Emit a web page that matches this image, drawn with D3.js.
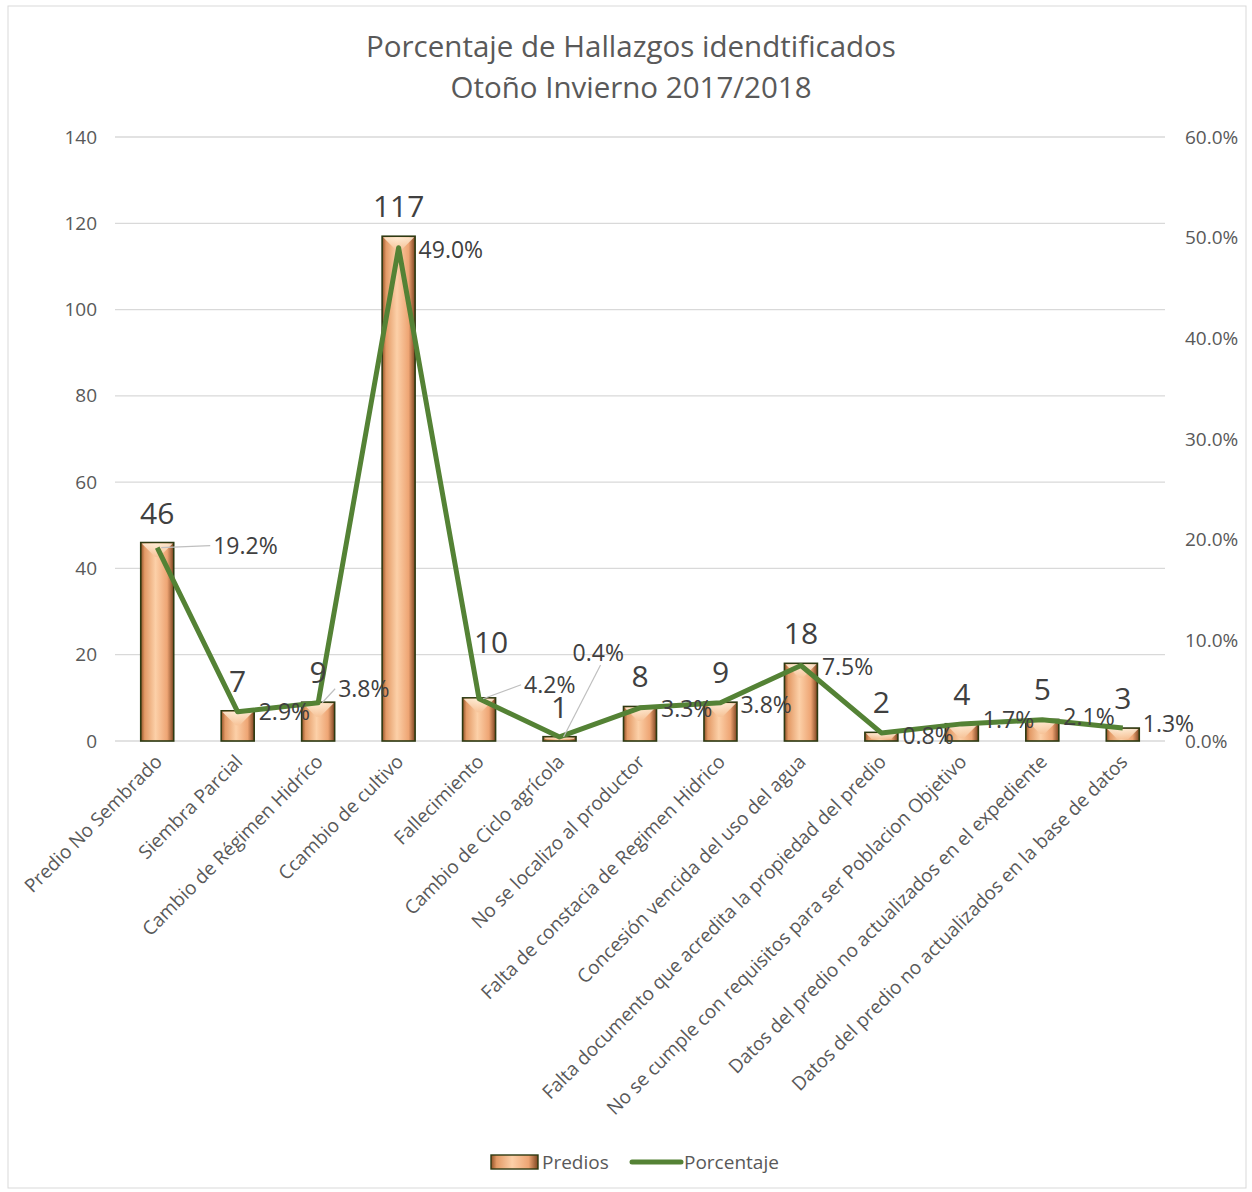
<!DOCTYPE html>
<html>
<head>
<meta charset="utf-8">
<script src="https://cdn.jsdelivr.net/npm/d3@7"></script>
<style>
  body { margin: 0; background: #fff; }
  text { font-family: "Open Sans", sans-serif; }
</style>
</head>
<body>
<svg width="1252" height="1192"></svg>
<script>
// data
const categories = [
  "Predio No Sembrado", "Siembra Parcial", "Cambio de Régimen Hidríco", "Ccambio de cultivo",
  "Fallecimiento", "Cambio de Ciclo agrícola", "No se localizo al productor",
  "Falta de constacia de Regimen Hidrico", "Concesión vencida del uso del agua",
  "Falta documento que acredita la propiedad del predio",
  "No se cumple con requisitos para ser Poblacion Objetivo",
  "Datos del predio no actualizados en el expediente",
  "Datos del predio no actualizados en la base de datos"
];
const predios = [46, 7, 9, 117, 10, 1, 8, 9, 18, 2, 4, 5, 3];
const porcentaje = [0.192, 0.029, 0.038, 0.490, 0.042, 0.004, 0.033, 0.038, 0.075, 0.008, 0.017, 0.021, 0.013];
const leftTicks = [0, 20, 40, 60, 80, 100, 120, 140];
const rightTicks = [0, 0.1, 0.2, 0.3, 0.4, 0.5, 0.6];

// label nudges (layout only): [dx, dy, leader?, leader end dx, leader end dy]
const pctNudge = [[56, -2, true, -3, 0], [21, 0], [20, -14, true, -3, 0], [20, 2], [45, -14, true, -3, 0],
                  [13, -84, true, 28, 12], [21, 1], [20, 2], [21, 1], [21, 3], [21, -4], [21, -3], [20, -4]];
const cntNudge = [[0, 0], [0, 0], [0, 0], [0, 0], [12, -26], [0, 0], [0, 0], [0, 0], [0, 0], [0, 0], [0, 0], [0, 0], [0, 0]];

const svg = d3.select("svg");
const plotLeft = 117, plotRight = 1163, plotTop = 137, plotBottom = 741;

svg.append("rect").attr("x", 8).attr("y", 6).attr("width", 1238).attr("height", 1182)
  .attr("fill", "#fff").attr("stroke", "#d9d9d9");

const defs = svg.append("defs");
const grad = defs.append("linearGradient").attr("id", "barGrad").attr("x1", "0").attr("x2", "1").attr("y1", "0").attr("y2", "0");
[["0%", "#8f5026"], ["12%", "#e39a66"], ["45%", "#fcd0a8"], ["80%", "#eea574"], ["100%", "#7e4420"]]
  .forEach(s => grad.append("stop").attr("offset", s[0]).attr("stop-color", s[1]));
const bevel = defs.append("linearGradient").attr("id", "bevelGrad").attr("x1", "0").attr("x2", "0").attr("y1", "0").attr("y2", "1");
[["0%", "#fff1dc"], ["100%", "#f6c297"]].forEach(s => bevel.append("stop").attr("offset", s[0]).attr("stop-color", s[1]));

const x = d3.scaleBand().domain(categories).range([plotLeft, plotRight]).paddingInner(0.59).paddingOuter(0.295);
const yL = d3.scaleLinear().domain([0, 140]).range([plotBottom, plotTop]);
const yR = d3.scaleLinear().domain([0, 0.6]).range([plotBottom, plotTop]);
const cx = c => x(c) + x.bandwidth() / 2;

// title
svg.append("text").attr("x", 631).attr("y", 57).attr("text-anchor", "middle")
  .attr("font-size", 29.5).attr("fill", "#595959").text("Porcentaje de Hallazgos idendtificados");
svg.append("text").attr("x", 631).attr("y", 98).attr("text-anchor", "middle")
  .attr("font-size", 29.5).attr("fill", "#595959").text("Otoño Invierno 2017/2018");

// gridlines
svg.append("g").selectAll("line").data(leftTicks).enter().append("line")
  .attr("x1", plotLeft - 2).attr("x2", plotRight + 2)
  .attr("y1", d => yL(d)).attr("y2", d => yL(d))
  .attr("stroke", "#d9d9d9").attr("stroke-width", 1.3);

// left axis
const axL = svg.append("g").attr("transform", `translate(${plotLeft - 2},0)`)
  .call(d3.axisLeft(yL).tickValues(leftTicks).tickSize(0).tickPadding(18));
axL.select(".domain").remove();
axL.selectAll("text").attr("font-size", 19).attr("fill", "#595959").style("font-family", "Open Sans");

// right axis
const axR = svg.append("g").attr("transform", `translate(${plotRight + 2},0)`)
  .call(d3.axisRight(yR).tickValues(rightTicks).tickFormat(d3.format(".1%")).tickSize(0).tickPadding(20));
axR.select(".domain").remove();
axR.selectAll("text").attr("font-size", 19).attr("fill", "#595959").style("font-family", "Open Sans");

// bars
const bars = svg.append("g").selectAll("g").data(categories).enter().append("g");
bars.append("rect")
  .attr("x", d => x(d)).attr("width", x.bandwidth())
  .attr("y", (d, i) => yL(predios[i])).attr("height", (d, i) => plotBottom - yL(predios[i]))
  .attr("fill", "url(#barGrad)").attr("stroke", "#2e3a12").attr("stroke-width", 1.6);
bars.append("path")
  .attr("d", (d, i) => {
    const x0 = x(d) + 1, x1 = x(d) + x.bandwidth() - 1, y0 = yL(predios[i]) + 1;
    const h = Math.min(x.bandwidth() / 2 - 3, plotBottom - y0 - 2);
    return `M${x0},${y0}L${x1},${y0}L${x1 - h},${y0 + h}L${x0 + h},${y0 + h}Z`;
  })
  .attr("fill", "url(#bevelGrad)").attr("opacity", 0.85);

// line
svg.append("path").datum(porcentaje)
  .attr("d", d3.line().x((d, i) => cx(categories[i])).y(d => yR(d)))
  .attr("fill", "none").attr("stroke", "#548235").attr("stroke-width", 5).attr("stroke-linejoin", "round");

// count labels
svg.append("g").selectAll("text").data(predios).enter().append("text")
  .attr("x", (d, i) => cx(categories[i]) + cntNudge[i][0])
  .attr("y", (d, i) => yL(d) - 19 + cntNudge[i][1])
  .attr("text-anchor", "middle").attr("font-size", 30).attr("fill", "#404040")
  .text(d => d);

// percent labels with leader lines
const pl = svg.append("g");
porcentaje.forEach((p, i) => {
  const px = cx(categories[i]), py = yR(p);
  const n = pctNudge[i];
  const lx = px + n[0], ly = py + n[1];
  if (n[2]) {
    pl.append("line").attr("x1", px + 4).attr("y1", py).attr("x2", lx + n[3]).attr("y2", ly + n[4])
      .attr("stroke", "#bfbfbf").attr("stroke-width", 1.2);
  }
  pl.append("text").attr("x", lx).attr("y", ly).attr("dy", "0.35em")
    .attr("font-size", 23).attr("fill", "#404040").text(d3.format(".1%")(p));
});

// category labels
svg.append("g").selectAll("text").data(categories).enter().append("text")
  .attr("transform", d => `translate(${cx(d) + 6},${plotBottom + 22}) rotate(-45)`)
  .attr("text-anchor", "end").attr("font-size", 19).attr("fill", "#595959")
  .text(d => d);

// legend
const lg = svg.append("g");
lg.append("rect").attr("x", 491).attr("y", 1155).attr("width", 47).attr("height", 14)
  .attr("fill", "url(#barGrad)").attr("stroke", "#2e3a12").attr("stroke-width", 1.4);
lg.append("text").attr("x", 542).attr("y", 1162).attr("dy", "0.35em").attr("font-size", 19).attr("fill", "#595959").text("Predios");
lg.append("line").attr("x1", 632).attr("x2", 681).attr("y1", 1162).attr("y2", 1162)
  .attr("stroke", "#548235").attr("stroke-width", 5).attr("stroke-linecap", "round");
lg.append("text").attr("x", 684).attr("y", 1162).attr("dy", "0.35em").attr("font-size", 19).attr("fill", "#595959").text("Porcentaje");
</script>
</body>
</html>
